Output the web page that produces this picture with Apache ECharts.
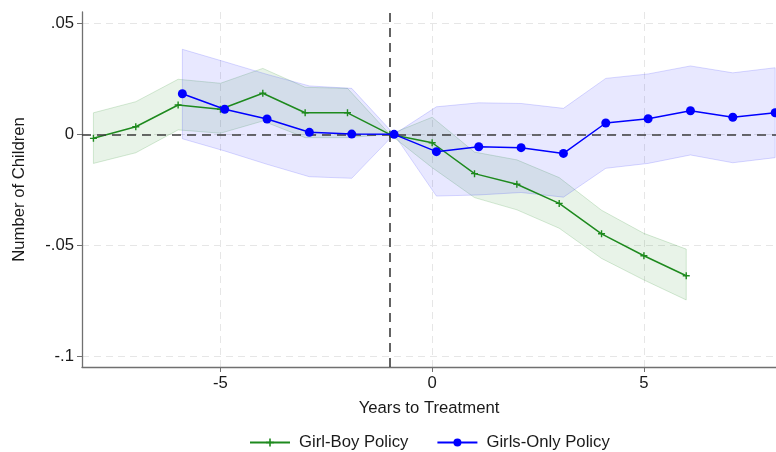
<!DOCTYPE html>
<html>
<head>
<meta charset="utf-8">
<script src="https://cdn.jsdelivr.net/npm/echarts@6/dist/echarts.min.js"></script>
<style>
  html, body { margin: 0; padding: 0; background: #fff; }
  #main { width: 776px; height: 452px; }
</style>
</head>
<body>
<div id="main"></div>
<script>
// Girl-Boy Policy (green)
var gbYears = [-8, -7, -6, -5, -4, -3, -2, -1, 0, 1, 2, 3, 4, 5, 6];
var gbEst = [-0.0018, 0.0034, 0.0132, 0.0113, 0.0185, 0.0097, 0.0097, 0, -0.0038, -0.0177, -0.0225, -0.0311, -0.0448, -0.0547, -0.0637];
var gbLo = [-0.0131, -0.0083, 0.0020, 0.0005, 0.0060, -0.0015, -0.0015, 0, -0.0150, -0.0285, -0.0340, -0.0423, -0.0559, -0.0656, -0.0746];
var gbHi = [0.0097, 0.0147, 0.0248, 0.0230, 0.0297, 0.0212, 0.0207, 0, 0.0077, -0.0080, -0.0115, -0.0195, -0.0342, -0.0446, -0.0517];

// Girls-Only Policy (blue)
var goYears = [-6, -5, -4, -3, -2, -1, 0, 1, 2, 3, 4, 5, 6, 7, 8];
var goEst = [0.0183, 0.0113, 0.0069, 0.0009, 0.0001, 0, -0.0078, -0.0056, -0.0060, -0.0086, 0.0051, 0.0070, 0.0106, 0.0077, 0.0097];
var goLo = [-0.0020, -0.0075, -0.0135, -0.0191, -0.0198, 0, -0.0278, -0.0273, -0.0262, -0.0283, -0.0153, -0.0131, -0.0093, -0.0128, -0.0105];
var goHi = [0.0383, 0.0327, 0.0270, 0.0218, 0.0207, 0, 0.0124, 0.0142, 0.0139, 0.0117, 0.0252, 0.0272, 0.0308, 0.0277, 0.0300];

var xTicks = [-5, 0, 5];
var yTicks = [-0.1, -0.05, 0, 0.05];
var treatLine = -1;

var GO_SHIFT = 0.1; // blue series drawn slightly to the right
var FONT = "'Liberation Sans', Arial, Helvetica, sans-serif";
var FS = 16.7;

function band(name, xs, lo, hi, shift, fill, stroke) {
  return {
    type: 'custom',
    name: name,
    silent: true,
    z: 1,
    data: xs.map(function (x, i) { return [x + shift, lo[i], hi[i]]; }),
    encode: { x: 0, y: [1, 2] },
    renderItem: function (params, api) {
      if (params.dataIndex !== 0) return;
      var pts = [];
      for (var i = 0; i < xs.length; i++) pts.push(api.coord([xs[i] + shift, hi[i]]));
      for (var j = xs.length - 1; j >= 0; j--) pts.push(api.coord([xs[j] + shift, lo[j]]));
      return {
        type: 'polygon',
        shape: { points: pts },
        style: { fill: fill, stroke: stroke, lineWidth: 1 }
      };
    }
  };
}

var myChart = echarts.init(document.getElementById('main'));
myChart.setOption({
  animation: false,
  grid: { left: 82, right: 0, top: 12, bottom: 85 },
  legend: {
    top: 429,
    left: 244,
    itemWidth: 40,
    itemHeight: 10,
    itemGap: 28,
    data: ['Girl-Boy Policy', 'Girls-Only Policy'],
    textStyle: { fontFamily: FONT, fontSize: FS, color: '#1a1a1a', padding: [0, 0, 0, 4] }
  },
  xAxis: {
    type: 'value',
    min: -8.27,
    max: 8.12,
    name: 'Years to Treatment',
    nameLocation: 'middle',
    nameGap: 33,
    nameTextStyle: { fontFamily: FONT, fontSize: FS, color: '#1a1a1a' },
    axisLine: { show: true, onZero: false, lineStyle: { color: '#707070', width: 1.3 } },
    axisTick: { show: true, length: 5, customValues: xTicks, lineStyle: { color: '#707070' } },
    axisLabel: { customValues: xTicks, margin: 8, fontFamily: FONT, fontSize: FS, color: '#1a1a1a' },
    splitLine: { show: true, lineStyle: { color: '#e6e6e6', type: [7, 5] } }
  },
  yAxis: {
    type: 'value',
    min: -0.1048,
    max: 0.0551,
    name: 'Number of Children',
    nameLocation: 'middle',
    nameGap: 54,
    nameTextStyle: { fontFamily: FONT, fontSize: FS, color: '#1a1a1a' },
    axisLine: { show: true, onZero: false, lineStyle: { color: '#707070', width: 1.3 } },
    axisTick: { show: true, length: 5, customValues: yTicks, lineStyle: { color: '#707070' } },
    axisLabel: {
      customValues: yTicks,
      margin: 8,
      fontFamily: FONT,
      fontSize: FS,
      color: '#1a1a1a',
      formatter: function (v) {
        if (Math.abs(v) < 1e-9) return '0';
        return String(+v.toFixed(3)).replace('0.', '.');
      }
    },
    splitLine: { show: true, lineStyle: { color: '#e6e6e6', type: [7, 5] } }
  },
  series: [
    band('gbBand', gbYears, gbLo, gbHi, 0, 'rgba(34,139,34,0.10)', 'rgba(34,139,34,0.18)'),
    band('goBand', goYears, goLo, goHi, GO_SHIFT, 'rgba(0,0,255,0.09)', 'rgba(0,0,255,0.15)'),
    {
      name: 'Girl-Boy Policy',
      type: 'line',
      z: 4,
      data: gbYears.map(function (x, i) { return [x, gbEst[i]]; }),
      symbol: 'path://M4,0H6V4H10V6H6V10H4V6H0V4H4Z',
      symbolSize: 7,
      itemStyle: { color: '#1e8a1e' },
      lineStyle: { color: '#1e8a1e', width: 1.5 },
      markLine: {
        silent: true,
        symbol: 'none',
        label: { show: false },
        lineStyle: { color: '#3c3c3c', type: [9, 6], width: 1.6 },
        data: [{ yAxis: 0 }, { xAxis: treatLine }]
      }
    },
    {
      name: 'Girls-Only Policy',
      type: 'line',
      z: 5,
      data: goYears.map(function (x, i) { return [x + GO_SHIFT, goEst[i]]; }),
      symbol: 'circle',
      symbolSize: 9,
      itemStyle: { color: '#0000ff' },
      lineStyle: { color: '#0000ff', width: 1.5 }
    }
  ]
});
</script>
</body>
</html>
